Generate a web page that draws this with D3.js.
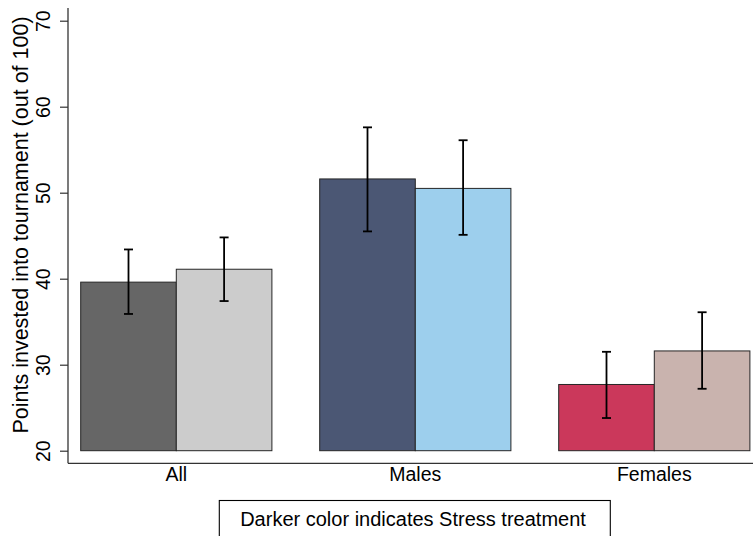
<!DOCTYPE html>
<html>
<head>
<meta charset="utf-8">
<script src="https://cdn.jsdelivr.net/npm/d3@7"></script>
<style>
  body { margin: 0; background: #fff; }
  svg { display: block; font-family: 'Liberation Sans', Arial, sans-serif; }
</style>
</head>
<body>
<div id="chart"></div>
<script>
// group labels and treatment means (points out of 100)
var groups = ['All', 'Males', 'Females'];
var stressMean = [39.6, 51.6, 27.7];
var controlMean = [41.1, 50.5, 31.6];
// confidence bounds
var stressLo = [35.9, 45.5, 23.8];
var stressHi = [43.4, 57.6, 31.5];
var controlLo = [37.4, 45.1, 27.2];
var controlHi = [44.8, 56.1, 36.1];
var yTicks = [20, 30, 40, 50, 60, 70];
var stressColors = ['#666666', '#4b5774', '#cb385b'];
var controlColors = ['#cccccc', '#9dcfed', '#c9b3ae'];

var W = 753, H = 536;
var svg = d3.select('#chart').append('svg')
  .attr('width', W).attr('height', H);

var y = d3.scaleLinear().domain([20, 70]).range([450.7, 20.7]);
var x0 = d3.scaleBand().domain(groups).range([56.8, 773.8])
  .paddingInner(0.2).paddingOuter(0.1);
var x1 = d3.scaleBand().domain(['stress', 'control']).range([0, x0.bandwidth()]);

var axisX = 68, axisY = 463.3;

// bars: one row per group x treatment
var rows = [];
groups.forEach(function(g, i) {
  rows.push({g: g, t: 'stress', v: stressMean[i], lo: stressLo[i], hi: stressHi[i], c: stressColors[i]});
  rows.push({g: g, t: 'control', v: controlMean[i], lo: controlLo[i], hi: controlHi[i], c: controlColors[i]});
});

svg.append('g').selectAll('rect')
  .data(rows)
  .enter().append('rect')
  .attr('x', function(d) { return x0(d.g) + x1(d.t); })
  .attr('y', function(d) { return y(d.v); })
  .attr('width', x1.bandwidth())
  .attr('height', function(d) { return y(20) - y(d.v); })
  .attr('fill', function(d) { return d.c; })
  .attr('stroke', '#262626')
  .attr('stroke-width', 1);

// error bars
var cap = 4.5;
var eb = svg.append('g').attr('stroke', '#000').attr('stroke-width', 1.8).attr('fill', 'none');
rows.forEach(function(d) {
  var cx = x0(d.g) + x1(d.t) + x1.bandwidth() / 2;
  eb.append('line').attr('x1', cx).attr('x2', cx).attr('y1', y(d.lo)).attr('y2', y(d.hi));
  eb.append('line').attr('x1', cx - cap).attr('x2', cx + cap).attr('y1', y(d.lo)).attr('y2', y(d.lo));
  eb.append('line').attr('x1', cx - cap).attr('x2', cx + cap).attr('y1', y(d.hi)).attr('y2', y(d.hi));
});

// y axis
var yAxis = svg.append('g')
  .attr('transform', 'translate(' + axisX + ',0)')
  .call(d3.axisLeft(y).tickValues(yTicks).tickSize(8).tickSizeOuter(0).tickFormat(d3.format('d')));
yAxis.select('.domain').remove();
yAxis.selectAll('.tick line').attr('stroke', '#333').attr('stroke-width', 1.2);
yAxis.selectAll('.tick text')
  .attr('x', 0).attr('y', 0).attr('dy', 0)
  .attr('transform', 'translate(-18,0) rotate(-90)')
  .attr('text-anchor', 'middle')
  .style('font-size', '19.5px')
  .attr('fill', '#000');

svg.append('line')
  .attr('x1', axisX).attr('x2', axisX).attr('y1', 8).attr('y2', axisY)
  .attr('stroke', '#333').attr('stroke-width', 1.3);
svg.append('line')
  .attr('x1', axisX).attr('x2', W).attr('y1', axisY).attr('y2', axisY)
  .attr('stroke', '#333').attr('stroke-width', 1.3);

// group labels
svg.append('g').selectAll('text')
  .data(groups)
  .enter().append('text')
  .attr('x', function(d) { return x0(d) + x0.bandwidth() / 2; })
  .attr('y', 481)
  .attr('text-anchor', 'middle')
  .style('font-size', '19.5px')
  .text(function(d) { return d; });

// y title
svg.append('text')
  .attr('transform', 'translate(28,225) rotate(-90)')
  .attr('text-anchor', 'middle')
  .style('font-size', '21.5px')
  .text('Points invested into tournament (out of 100)');

// note box
svg.append('rect')
  .attr('x', 219.3).attr('y', 500.5).attr('width', 391).attr('height', 50)
  .attr('fill', '#fff').attr('stroke', '#000').attr('stroke-width', 1.1);
svg.append('text')
  .attr('x', 413).attr('y', 526)
  .attr('text-anchor', 'middle')
  .style('font-size', '20px')
  .text('Darker color indicates Stress treatment');
</script>
</body>
</html>
